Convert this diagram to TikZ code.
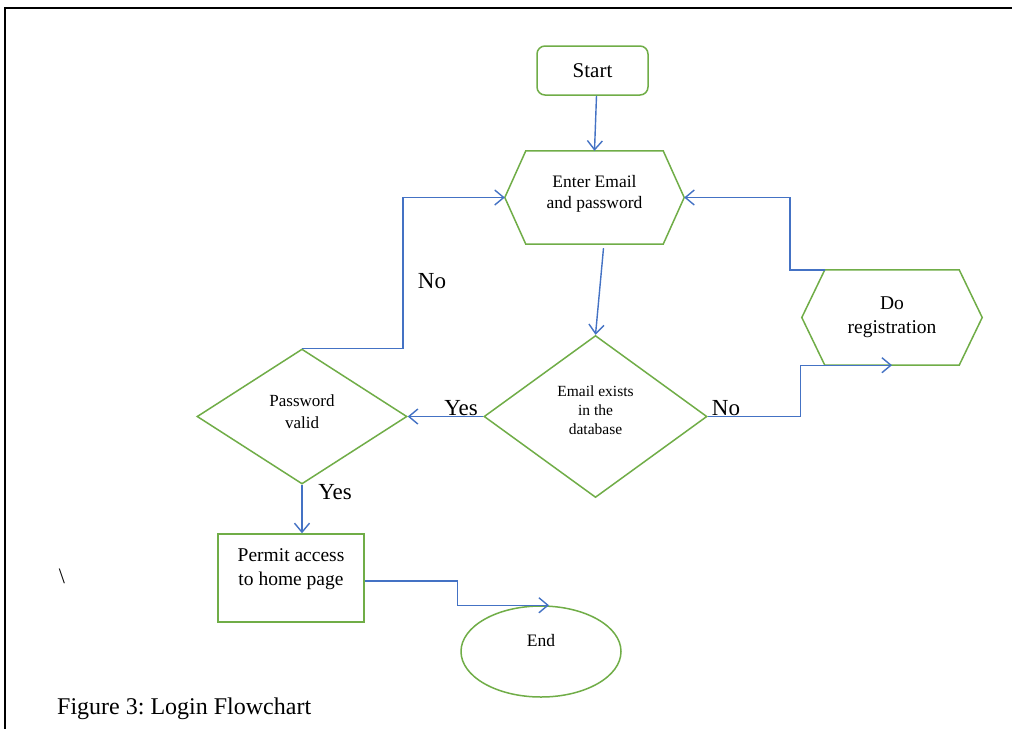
\documentclass[tikz,border=0pt]{standalone}
\usepackage{fontspec}
\setmainfont{Liberation Serif}
\usetikzlibrary{shapes.geometric,arrows.meta}
\definecolor{gr}{RGB}{112,173,71}
\definecolor{bl}{RGB}{68,114,196}
\frenchspacing
\begin{document}
\begin{tikzpicture}[x=1pt,y=-1pt,
  box/.style={draw=gr,line width=1.5pt,inner sep=0pt,align=center},
  hexbox/.style={inner sep=0pt,align=center},
  txt/.style={inner sep=0pt,align=center},
  hexline/.style={draw=gr,line width=1.5pt,line join=miter},
  flow/.style={draw=bl,line width=1.4pt,-{Straight Barb[length=9pt,width=15pt]}},
  lbl/.style={font=\fontsize{23}{27}\selectfont,inner sep=0pt}]
\useasboundingbox (0,0) rectangle (1012,729);
\fill[white] (0,0) rectangle (1012,729);
\draw[line width=2pt] (1012,8) -- (4.5,8) -- (4.5,729);

\node[box,rounded corners=8pt,minimum width=111pt,minimum height=49pt,font=\fontsize{21}{25}\selectfont] (start) at (592.5,70.5) {Start};

\node[hexbox,minimum width=179pt,minimum height=93pt] (enter) at (594.5,197.5) {};
\draw[hexline] (enter.west) -- ([xshift=21pt]enter.north west) -- ([xshift=-21pt]enter.north east) -- (enter.east) -- ([xshift=-21pt]enter.south east) -- ([xshift=21pt]enter.south west) -- cycle;
\node[txt,font=\fontsize{17.5}{21.5}\selectfont] (entertxt) at (594.5,194) {Enter Email\\and password};

\node[hexbox,minimum width=180pt,minimum height=95pt,font=\fontsize{19.5}{24}\selectfont] (reg) at (892,317.5) {Do\\registration};
\draw[hexline] (reg.west) -- ([xshift=23pt]reg.north west) -- ([xshift=-23pt]reg.north east) -- (reg.east) -- ([xshift=-23pt]reg.south east) -- ([xshift=23pt]reg.south west) -- cycle;

\node[box,diamond,minimum width=223pt,minimum height=162pt] (email) at (595.5,416.5) {};
\node[txt,font=\fontsize{15.5}{19}\selectfont] (emailtxt) at (595.5,410) {Email exists\\in the\\database};

\node[box,diamond,minimum width=210pt,minimum height=135pt] (pass) at (302,416.5) {};
\node[txt,font=\fontsize{17}{22}\selectfont] (passtxt) at (302,411.5) {Password\\valid};

\node[box,minimum width=146pt,minimum height=88pt] (permit) at (291,578) {};
\node[txt,font=\fontsize{19.5}{24}\selectfont] (permittxt) at (291,569) {Permit access\\to home page};

\node[box,ellipse,minimum width=160pt,minimum height=91pt,font=\fontsize{17.5}{22}\selectfont] (end) at (541,651.5) {End\\\mbox{}};

\draw[flow] ([xshift=4pt]start.south) -- (enter.north);
\draw[flow] ([xshift=9pt,yshift=-4pt]enter.south) -- (email.north);
\draw[flow] (email.west) -- (email.west -| pass.east);
\draw[flow] (pass.north) -- ++(101,0) |- (enter.west);
\draw[flow] (email.east) -- ++(93,0) |- (reg.south);
\draw[flow] ([xshift=23pt]reg.north west) -- ++(-35,0) |- (enter.east);
\draw[flow] (pass.south) -- (pass.south |- permit.north);
\draw[flow] ([yshift=-3pt]permit.east) -- ++(93,0) |- ([xshift=8pt]end.north);

\node[lbl] (no1) at (432,281) {No};
\node[lbl] (yes1) at (461,408) {Yes};
\node[lbl] (no2) at (726,408) {No};
\node[lbl] (yes2) at (335,492) {Yes};

\node[font=\fontsize{22}{26}\selectfont,inner sep=0pt] (bs) at (62,576) {\textbackslash};
\node[anchor=west,inner sep=0pt,font=\fontsize{24}{28}\selectfont] (cap) at (57,709) {Figure 3: Login Flowchart};
\end{tikzpicture}
\end{document}
